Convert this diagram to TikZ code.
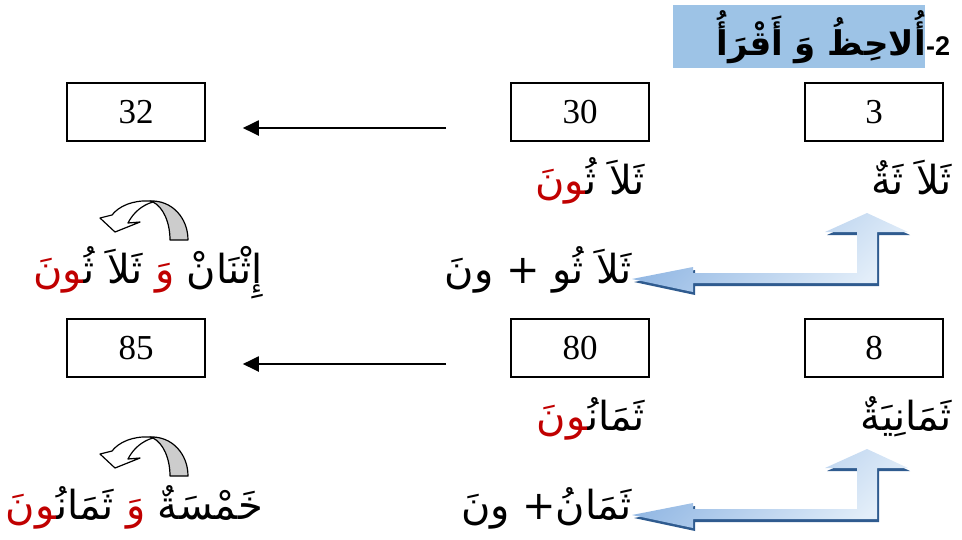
\documentclass[tikz,border=0pt]{standalone}
\usepackage{fontspec}
\usepackage{xcolor}
\usetikzlibrary{arrows.meta,positioning}
\TeXXeTstate=1
\newfontfamily\arabicfont[Script=Arabic]{DejaVu Sans}
\newfontfamily\numfont{Liberation Serif}
\newfontfamily\headfont{Liberation Sans}
\definecolor{titleblue} {HTML}{9DC3E6}
\definecolor{wordred}   {HTML}{C00000}
\definecolor{arrowblue} {HTML}{8DB4E2}
\definecolor{arrowpale} {HTML}{E3EEF9}
\definecolor{arrowdark} {HTML}{2F5B8F}
\definecolor{ribbongray}{HTML}{CCCCCC}
\newcommand{\zj}{\char"200D }
\tikzset{
  numbox/.style={draw=black,line width=1.6pt,minimum width=138pt,minimum height=58pt,inner sep=0pt,font=\numfont\fontsize{35}{40}\selectfont},
  arlabel/.style={inner sep=0pt,anchor=base east,font=\arabicfont\fontsize{40}{46}\selectfont},
  redpart/.style={arlabel,text=wordred},
  numarrow/.style={line width=2pt,-{Triangle[length=16pt,width=15pt]}},
  ribbon/.style={draw=black,line width=1.2pt,line join=round},
  bentshade/.style={top color=arrowblue,bottom color=arrowpale,shading angle=45}
}

\begin{document}
\begin{tikzpicture}[x=1pt,y=-1pt]
    \useasboundingbox (0,0) rectangle (962,539);
    % title bar
    \node[fill=titleblue,minimum width=252pt,minimum height=63pt,inner sep=0pt] (titlebar) at (799,36.5) {};
    \node[inner sep=0pt,anchor=base east,font=\arabicfont\bfseries\fontsize{34}{40}\selectfont] (title) at (926,55) {\beginR أُلاحِظُ وَ أَقْرَأُ\endR};
    \node[inner sep=0pt,anchor=base west,font=\headfont\bfseries\fontsize{27}{30}\selectfont] (titlenum) at (title.base east) {-2};

    % number boxes
    \node[numbox] (b3)  at (874,112) {3};
    \node[numbox] (b30) at (580,112) {30};
    \node[numbox] (b32) at (136,112) {32};
    \node[numbox] (b8)  at (874,348) {8};
    \node[numbox] (b80) at (580,348) {80};
    \node[numbox] (b85) at (136,348) {85};

    % words, first row
    \node[arlabel] (l3)   at (952,194) {\beginR ثَلاَ ثَةٌ\endR};
    \node[arlabel] (l30a) at (645,194) {\beginR ثَلاَ ثُ\zj\endR};
    \node[redpart] (l30b) at (l30a.base west) {\beginR\zj ونَ\endR};
    \node[arlabel] (l30sum) at (632,283) {\beginR ثَلاَ ثُو + ونَ\endR};
    \node[arlabel] (l32a) at (263,283) {\beginR إِثْنَانْ\endR};
    \node[redpart] (l32b) at ([xshift=-12pt]l32a.base west) {\beginR وَ\endR};
    \node[arlabel] (l32c) at ([xshift=-12pt]l32b.base west) {\beginR ثَلاَ ثُ\zj\endR};
    \node[redpart] (l32d) at (l32c.base west) {\beginR\zj ونَ\endR};

    % words, second row
    \node[arlabel] (l8)   at (952,430) {\beginR ثَمَانِيَةٌ\endR};
    \node[arlabel] (l80a) at (645,430) {\beginR ثَمَانُ\zj\endR};
    \node[redpart] (l80b) at (l80a.base west) {\beginR\zj ونَ\endR};
    \node[arlabel] (l80sum) at (632,519) {\beginR ثَمَانُ+ ونَ\endR};
    \node[arlabel] (l85a) at (263,519) {\beginR خَمْسَةٌ\endR};
    \node[redpart] (l85b) at ([xshift=-12pt]l85a.base west) {\beginR وَ\endR};
    \node[arlabel] (l85c) at ([xshift=-12pt]l85b.base west) {\beginR ثَمَانُ\zj\endR};
    \node[redpart] (l85d) at (l85c.base west) {\beginR\zj ونَ\endR};

    % arrows between boxes
    \draw[numarrow] ([xshift=-64pt,yshift=-16pt]b30.west) -- ([xshift=37pt,yshift=-16pt]b32.east);
    \draw[numarrow] ([xshift=-64pt,yshift=-16pt]b80.west) -- ([xshift=37pt,yshift=-16pt]b85.east);

    % bent blue arrows and curled arrows
    \foreach \dy in {0,236}{
      \begin{scope}[shift={(0,\dy)}]
        \fill[arrowdark] (869,216) -- (910,235) -- (879,235) -- (879,286) -- (695,286) -- (695,295) -- (634,282) -- (695,270) -- (695,276) -- (859,276) -- (859,235) -- (827,235) -- cycle;
        \shade[bentshade] (867,213) -- (908,232) -- (877,232) -- (877,283) -- (693,283) -- (693,292) -- (632,279) -- (693,267) -- (693,273) -- (857,273) -- (857,232) -- (825,232) -- cycle;
        \filldraw[ribbon,fill=ribbongray] (150,201) .. controls (172,200) and (188,218) .. (188,240) -- (170,240) .. controls (170,222) and (163,207) .. (153,202) -- cycle;
        \filldraw[ribbon,fill=white] (150,201) .. controls (133,200) and (119,206) .. (112,215) -- (100,218) -- (115,232) -- (140,222) -- (128,223) .. controls (133,213) and (142,205) .. (153,202) -- cycle;
      \end{scope}
    }
\end{tikzpicture}
\end{document}
